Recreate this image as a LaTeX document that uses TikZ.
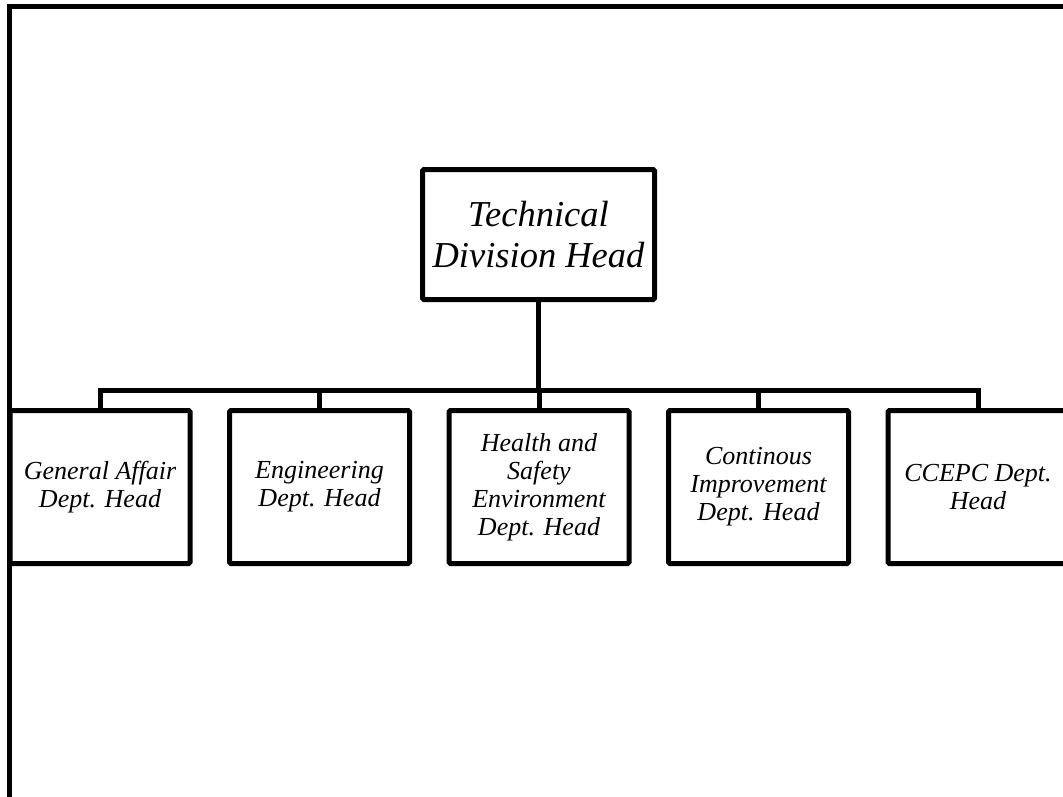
\documentclass[tikz,border=0pt]{standalone}
\usepackage{fontspec}
\setmainfont{Liberation Serif}
\begin{document}
\begin{tikzpicture}[x=1pt,y=-1pt,
  line width=5pt,
  headbox/.style={draw, rectangle, rounded corners=1.5pt, minimum width=232pt, minimum height=130pt,
    align=center, font=\itshape\fontsize{36.5}{41}\selectfont, inner sep=0pt},
  deptbox/.style={draw, rectangle, rounded corners=1.5pt, minimum width=180pt, minimum height=153pt,
    align=center, font=\itshape\fontsize{26}{28}\selectfont, inner sep=0pt},
  link/.style={line width=5pt}]
  \useasboundingbox (0,0) rectangle (1063,796);
  % outer frame
  \draw[line width=5pt] (9.5,800) -- (9.5,6.5) -- (1070,6.5);
  % division head
  \node[headbox] (head) at (538.5,234.5) {Technical\\Division Head};
  % departments
  \node[deptbox] (ga)  at (100,487)   {General Affair\\Dept. Head};
  \node[deptbox] (eng) at (319.5,487) {Engineering\\Dept. Head};
  \node[deptbox] (hse) at (539,487)   {Health and\\Safety\\Environment\\Dept. Head};
  \node[deptbox] (ci)  at (758.5,487) {Continous\\Improvement\\Dept. Head};
  \node[deptbox] (cc)  at (978,487)   {CCEPC Dept.\\Head};
  % connector bus
  \coordinate (bus) at (538.5,390);
  \draw[link] (head.south) -- (bus);
  \draw[link] (ga.north) |- (bus) -| (cc.north);
  \draw[link] (eng.north) -- (eng.north |- bus);
  \draw[link] (hse.north) -- (hse.north |- bus);
  \draw[link] (ci.north) -- (ci.north |- bus);
\end{tikzpicture}
\end{document}
